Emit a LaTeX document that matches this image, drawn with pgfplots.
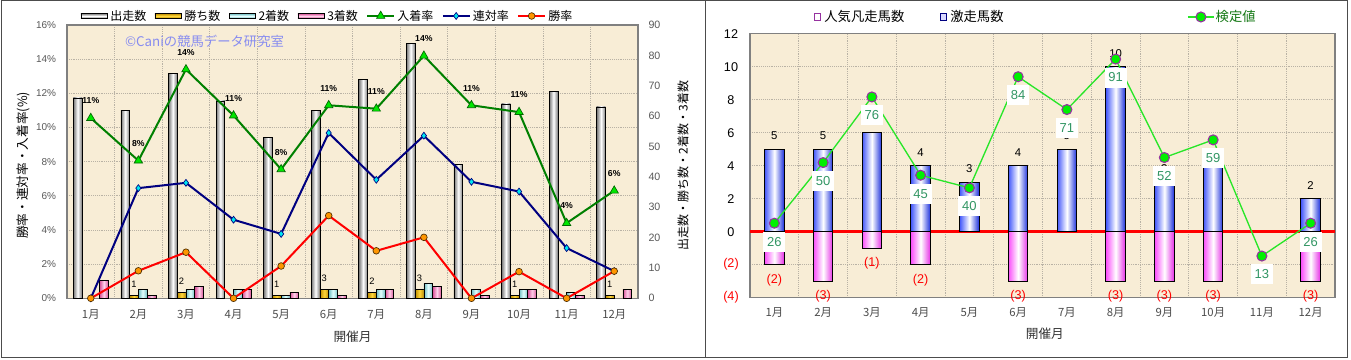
\documentclass[border=0pt]{standalone}
\usepackage{pgfplots}
\usepackage{pgfplotstable}
\pgfplotsset{compat=1.18}
\usepackage{fontspec}
\setmainfont{Liberation Sans}
\newfontfamily\jp{Noto Sans CJK JP}
\newcommand{\fs}[1]{\fontsize{#1}{#1}\selectfont}
\definecolor{bgc}{RGB}{248,237,214}
\definecolor{gridc}{RGB}{185,178,165}
\definecolor{axc}{RGB}{128,128,128}
\definecolor{grayA}{RGB}{120,120,120}
\definecolor{goldA}{RGB}{190,140,0}
\definecolor{goldB}{RGB}{255,215,60}
\definecolor{cyanA}{RGB}{110,190,195}
\definecolor{cyanB}{RGB}{230,255,255}
\definecolor{pinkA}{RGB}{215,80,150}
\definecolor{pinkB}{RGB}{255,210,235}
\definecolor{lgreen}{RGB}{0,128,0}
\definecolor{tri}{RGB}{0,230,0}
\definecolor{navyc}{RGB}{0,0,128}
\definecolor{diam}{RGB}{0,230,240}
\definecolor{orc}{RGB}{255,150,0}
\definecolor{wm}{RGB}{135,140,240}
\definecolor{blueA}{RGB}{70,90,250}
\definecolor{blueB}{RGB}{30,50,220}
\definecolor{magA}{RGB}{250,80,250}
\definecolor{magB}{RGB}{230,50,230}
\definecolor{kline}{RGB}{40,230,40}
\definecolor{kfill}{RGB}{0,240,0}
\definecolor{kdraw}{RGB}{150,50,160}
\definecolor{ktxt}{RGB}{50,150,100}
\definecolor{kleg}{RGB}{20,120,20}

% left chart: month, runners, wins, 2nd, 3rd (nan = no bar), place/rentai/win rates (%), label
\pgfplotstableread{
m run win sec thr plc ren sho plab
1 66 nan nan 6 10.55 0 0 11\%
2 62 1 3 1 8.06 6.45 1.61 8\%
3 74 2 3 4 13.4 6.76 2.7 14\%
4 65 nan 3 3 10.7 4.6 0 11\%
5 53 1 1 2 7.55 3.77 1.89 8\%
6 62 3 3 1 11.3 9.68 4.84 11\%
7 72 2 3 3 11.1 6.94 2.78 11\%
8 84 3 5 4 14.2 9.52 3.57 14\%
9 44 nan 3 1 11.3 6.82 0 11\%
10 64 1 3 3 10.9 6.25 1.56 11\%
11 68 nan 2 1 4.4 2.94 0 4\%
12 63 1 nan 3 6.3 1.59 1.59 6\%
}\tabL

% right chart: month, 激走馬数, 人気凡走馬数 (negative), its label, 検定値
\pgfplotstableread{
m up dn dl k
1 5 -2 2 26
2 5 -3 3 50
3 6 -1 1 76
4 4 -2 2 45
5 3 nan x 40
6 4 -3 3 84
7 5 nan x 71
8 10 -3 3 91
9 3 -3 3 52
10 4 -3 3 59
11 nan nan x 13
12 2 -3 3 26
}\tabR

\pgfplotsset{
  panelL/.style={at={(50.25pt,46.275pt)}, anchor=south west, scale only axis,
    width=428.25pt, height=204.975pt, xmin=0.5, xmax=12.5},
  panelR/.style={at={(562.5pt,46.725pt)}, anchor=south west, scale only axis,
    width=438.75pt, height=197.925pt, xmin=0.5, xmax=12.5},
  /pgf/number format/assume math mode=true,
  mygrid/.style={ymajorgrids, xminorgrids,
    major grid style={draw=gridc, densely dotted, line width=0.5pt},
    minor grid style={draw=gridc, densely dotted, line width=0.5pt}},
  % a bar drawn as a shaded node whose height follows its value
  cylL/.style n args={3}{ybar, draw=none, fill=none,
    visualization depends on={rawy\as\ry},
    nodes near coords={},
    every node near coord/.append style={anchor=north, inner sep=0pt, outer sep=0pt,
      xshift=#3, minimum width=6.56pt, minimum height={\ry*2.2775pt},
      draw=black, line width=0.5pt, left color=#1, right color=#1, middle color=#2}},
}

\begin{document}
\begin{tikzpicture}
\useasboundingbox (0,0) rectangle (1013.25pt,270pt);
\fill[white] (0,0) rectangle (1013.25pt,270pt);
\draw[line width=0.75pt, black!70] (0.75pt,1.5pt) rectangle (529.1pt,269.25pt);
\draw[line width=0.75pt, black!70] (529.1pt,1.5pt) rectangle (1010.25pt,269.25pt);

% ---------------- LEFT: background, grid, % axis ----------------
\begin{axis}[panelL, ymin=0, ymax=16,
  axis background/.style={fill=bgc},
  axis line style={draw=axc, line width=1pt},
  tick align=inside, major tick length=0pt, minor tick length=0pt,
  ytick={0,2,...,16}, ytick pos=left,
  yticklabel={\pgfmathprintnumber{\tick}\%},
  yticklabel style={font=\fs{7.5}, text=black!65, anchor=east, inner sep=0pt, xshift=-8pt},
  xtick={1,...,12}, xtick pos=bottom,
  xticklabels={1月,2月,3月,4月,5月,6月,7月,8月,9月,10月,11月,12月},
  xticklabel style={font={\jp\fs{8.5}}, text=black!70, anchor=center, inner sep=0pt, yshift=-11.8pt},
  minor xtick={1.5,2.5,...,11.5},
  mygrid,
  xlabel={開催月},
  xlabel style={font={\jp\fs{9.5}}, text=black!80, at={(axis description cs:0.5,-0.1405)}, anchor=center},
  ylabel={勝率・連対率・入着率(\%)},
  ylabel style={font={\jp\fs{9.5}}, at={(axis description cs:-0.077,0.486)}, anchor=center},
]
\node[font={\jp\fs{10}}, text=wm] at (axis description cs:0.2408,0.939) {©Caniの競馬データ研究室};
\end{axis}

% ---------------- LEFT: bars on count axis ----------------
\begin{axis}[panelL, ymin=0, ymax=90,
  axis x line=none, axis y line*=right,
  axis line style={draw=axc, line width=1pt},
  tick align=inside, major tick length=0pt,
  ytick={0,10,...,90},
  yticklabel style={font=\fs{8}, text=black!65, anchor=west, inner sep=0pt, xshift=7.7pt},
  ylabel={出走数・勝ち数・2着数・3着数},
  ylabel style={font={\jp\fs{9}}, at={(axis description cs:1.0788,0.486)}, anchor=center},
  bar width=6.56pt,
]
\addplot[cylL={grayA}{white}{-9.84pt}, bar shift=0pt] table[x=m, y=run] {\tabL};
\addplot[cylL={goldA}{goldB}{-3.28pt}, bar shift=0pt] table[x=m, y=win] {\tabL};
\addplot[cylL={cyanA}{cyanB}{3.28pt}, bar shift=0pt] table[x=m, y=sec] {\tabL};
\addplot[cylL={pinkA}{pinkB}{9.84pt}, bar shift=0pt] table[x=m, y=thr] {\tabL};
% win-count labels
\addplot[ybar, bar shift=0pt, draw=none, fill=none,
  nodes near coords, point meta=explicit symbolic,
  every node near coord/.append style={font=\fs{7}, text=black, inner sep=0pt, anchor=south, xshift=-3.28pt, yshift=5.5pt}]
  table[x=m, y=win, meta=win] {\tabL};
\end{axis}

% ---------------- LEFT: rate lines ----------------
\begin{axis}[panelL, ymin=0, ymax=16, hide axis, clip=false,
  legend columns=-1,
  legend style={at={(axis description cs:0.4553,1.033)}, anchor=center, draw=none, fill=none,
     font={\jp\fs{9}}, inner sep=0pt, nodes={inner sep=0.8pt},
     /tikz/every odd column/.append style={column sep=1pt},
     /tikz/every even column/.append style={column sep=5.5pt}},
  legend image code/.code={\draw[mark repeat=2,mark phase=2,#1] plot coordinates {(0pt,0pt) (10pt,0pt) (20pt,0pt)};},
]
\addlegendimage{legend image code/.code={\draw[draw=black, line width=0.5pt, top color=grayA, bottom color=grayA, middle color=white] (0pt,-1.9pt) rectangle (20pt,1.9pt);}}
\addlegendentry{出走数}
\addlegendimage{legend image code/.code={\draw[draw=black, line width=0.5pt, top color=goldA, bottom color=goldA, middle color=goldB] (0pt,-1.9pt) rectangle (20pt,1.9pt);}}
\addlegendentry{勝ち数}
\addlegendimage{legend image code/.code={\draw[draw=black, line width=0.5pt, top color=cyanA, bottom color=cyanA, middle color=cyanB] (0pt,-1.9pt) rectangle (20pt,1.9pt);}}
\addlegendentry{2着数}
\addlegendimage{legend image code/.code={\draw[draw=black, line width=0.5pt, top color=pinkA, bottom color=pinkA, middle color=pinkB] (0pt,-1.9pt) rectangle (20pt,1.9pt);}}
\addlegendentry{3着数}
\addplot[draw=lgreen, line width=1.5pt, mark=triangle*, mark size=3.6pt,
  mark options={fill=tri, draw=black!60!green, line width=0.5pt},
  nodes near coords, point meta=explicit symbolic,
  every node near coord/.append style={font={\fs{6.5}\bfseries}, text=black, inner sep=0pt, anchor=south, yshift=10.4pt}]
  table[x=m, y=plc, meta=plab] {\tabL};
\addlegendentry{入着率}
\addplot[draw=navyc, line width=1.5pt, mark=diamond*, mark size=2.6pt,
  mark options={fill=diam, draw=navyc, line width=0.5pt}]
  table[x=m, y=ren] {\tabL};
\addlegendentry{連対率}
\addplot[draw=red, line width=1.5pt, mark=*, mark size=2.5pt,
  mark options={fill=orc, draw=black!70!orc, line width=0.5pt}]
  table[x=m, y=sho] {\tabL};
\addlegendentry{勝率}
\end{axis}

% ---------------- RIGHT: bars ----------------
\begin{axis}[panelR, ymin=-4, ymax=12,
  axis background/.style={fill=bgc},
  axis line style={draw=axc, line width=1pt},
  tick align=inside, major tick length=0pt, minor tick length=0pt,
  ytick={-4,-2,...,12}, ytick pos=left,
  yticklabels={\textcolor{red}{(4)},\textcolor{red}{(2)},0,2,4,6,8,10,12},
  yticklabel style={font=\fs{9.5}, text=black, anchor=center, inner sep=0pt, xshift=-14.25pt},
  xtick={1,...,12}, xtick pos=bottom,
  xticklabels={1月,2月,3月,4月,5月,6月,7月,8月,9月,10月,11月,12月},
  xticklabel style={font={\jp\fs{8.5}}, text=black!70, anchor=center, inner sep=0pt, yshift=-11.25pt},
  minor xtick={1.5,2.5,...,11.5},
  mygrid,
  xlabel={開催月},
  xlabel style={font={\jp\fs{9.5}}, text=black!80, at={(axis description cs:0.504,-0.1376)}, anchor=center},
  legend columns=-1,
  legend style={at={(axis description cs:0.1094,1.0637)}, anchor=west, draw=none, fill=none,
     font={\jp\fs{10}}, inner sep=0pt, nodes={inner sep=0.8pt},
     /tikz/every odd column/.append style={column sep=1.5pt},
     /tikz/every even column/.append style={column sep=26pt}},
  bar width=14.5pt,
]
% 人気凡走馬数 (negative) bars
\addplot[ybar, bar shift=0pt, forget plot, draw=none, fill=none,
  visualization depends on={rawy\as\ry},
  nodes near coords={},
  every node near coord/.append style={anchor=south, inner sep=0pt, outer sep=0pt,
    minimum width=14.5pt, minimum height={abs(\ry)*12.3703pt},
    draw=black, line width=0.75pt, left color=magA, right color=magB, middle color=white}]
  table[x=m, y=dn] {\tabR};
% 激走馬数 bars
\addplot[ybar, bar shift=0pt, forget plot, draw=none, fill=none,
  visualization depends on={rawy\as\ry},
  nodes near coords={},
  every node near coord/.append style={anchor=north, inner sep=0pt, outer sep=0pt,
    minimum width=14.5pt, minimum height={\ry*12.3703pt},
    draw=black, line width=0.75pt, left color=blueA, right color=blueB, middle color=white}]
  table[x=m, y=up] {\tabR};
\addplot[red, line width=2.2pt, forget plot] coordinates {(0.5,0) (12.5,0)};
% labels
\addplot[ybar, bar shift=0pt, forget plot, draw=none, fill=none,
  nodes near coords={(\pgfplotspointmeta)}, point meta=explicit symbolic,
  every node near coord/.append style={font=\fs{9.5}, text=red, inner sep=0pt, anchor=north, yshift=-6.8pt}]
  table[x=m, y=dn, meta=dl] {\tabR};
\addplot[ybar, bar shift=0pt, forget plot, draw=none, fill=none,
  nodes near coords, point meta=explicit symbolic,
  every node near coord/.append style={font=\fs{8.5}, text=black, inner sep=0pt, anchor=south, yshift=7pt}]
  table[x=m, y=up, meta=up] {\tabR};
\addlegendimage{legend image code/.code={\draw[draw=kdraw, fill=white, line width=0.7pt] (0pt,-2.3pt) rectangle (4.6pt,2.3pt);}}
\addlegendentry{人気凡走馬数}
\addlegendimage{legend image code/.code={\draw[draw=navyc, fill=blue!15, line width=0.7pt] (0pt,-2.3pt) rectangle (4.6pt,2.3pt);}}
\addlegendentry{激走馬数}
\end{axis}

% ---------------- RIGHT: 検定値 ----------------
\begin{axis}[panelR, ymin=-3.5, ymax=101, hide axis, clip=false,
  legend style={at={(axis description cs:0.747,1.0637)}, anchor=west, draw=none, fill=none,
     font={\jp\fs{10}}, text=kleg, inner sep=0pt, nodes={inner sep=0.8pt}},
  legend image code/.code={\draw[mark repeat=2,mark phase=2,#1] plot coordinates {(0pt,0pt) (9.75pt,0pt) (19.5pt,0pt)};},
]
\addplot[draw=kline, line width=1pt, mark=*, mark size=3.75pt,
  mark options={fill=kfill, draw=kdraw, line width=0.8pt},
  nodes near coords, point meta=explicit symbolic,
  every node near coord/.append style={font=\fs{9.75}, text=ktxt, fill=white, inner sep=0pt,
     minimum width=16.5pt, minimum height=15pt, anchor=south, yshift=-21.75pt}]
  table[x=m, y=k, meta=k] {\tabR};
\addlegendentry{検定値}
\end{axis}
\end{tikzpicture}
\end{document}
